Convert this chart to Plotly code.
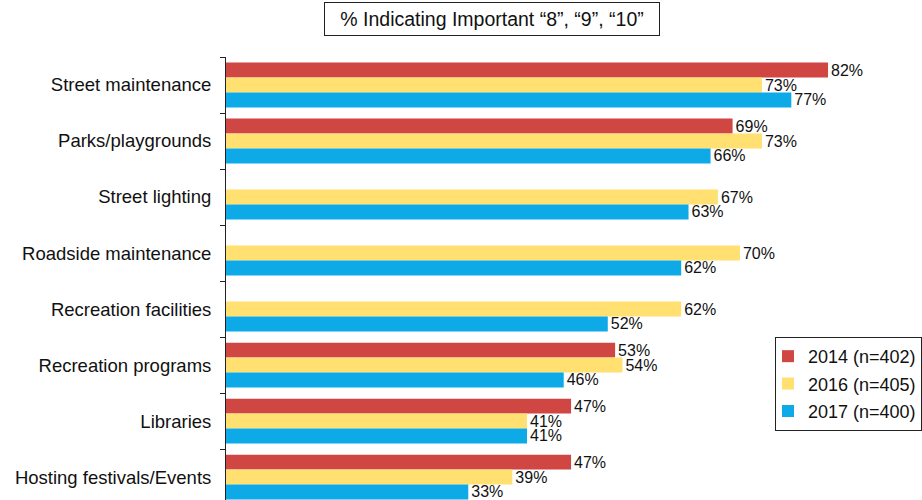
import plotly.graph_objects as go

categories = ["Street maintenance", "Parks/playgrounds", "Street lighting",
              "Roadside maintenance", "Recreation facilities", "Recreation programs",
              "Libraries", "Hosting festivals/Events"]
v2014 = [82, 69, None, None, None, 53, 47, 47]
v2016 = [73, 73, 67, 70, 62, 54, 41, 39]
v2017 = [77, 66, 63, 62, 52, 46, 41, 33]
series_names = ["2014 (n=402)", "2016 (n=405)", "2017 (n=400)"]
colors = ["#CF4642", "#FFE070", "#0DAAE7"]
title_text = "% Indicating Important “8”, “9”, “10”"

FONT = "Liberation Sans, Arial, sans-serif"

fig = go.Figure()
for i, (name, vals, col) in enumerate(zip(series_names, [v2014, v2016, v2017], colors)):
    fig.add_trace(go.Bar(
        y=categories, x=vals, orientation="h", name=name,
        marker=dict(color=col, line=dict(width=0)),
        text=[f"{v}%" if v is not None else "" for v in vals],
        textposition="outside", constraintext="none", cliponaxis=False,
        textfont=dict(family=FONT, size=16, color="#111"),
        legendgroup=f"g{i}",
    ))

fig.update_layout(
    width=922, height=500,
    margin=dict(l=226, r=0, t=57, b=0, autoexpand=False),
    paper_bgcolor="white", plot_bgcolor="white",
    barmode="group", bargap=0.2, bargroupgap=0,
    font=dict(family=FONT, color="#111"),
    showlegend=True,
    legend=dict(x=1, xanchor="right", y=0.368, yanchor="top",
                bordercolor="#222", borderwidth=1, bgcolor="white",
                font=dict(family=FONT, size=18, color="#111"),
                traceorder="grouped", tracegroupgap=1,
                itemwidth=30, indentation=-8),
    xaxis=dict(range=[0, 94.8], visible=False, fixedrange=True),
    yaxis=dict(type="category", range=[7.41, -0.5], tickson="boundaries",
               ticks="outside", ticklen=5, tickcolor="#222",
               showline=True, linecolor="#222", linewidth=1,
               showgrid=False, ticklabelstandoff=10,
               tickfont=dict(family=FONT, size=18.5, color="#111")),
    annotations=[dict(
        text=title_text, xref="paper", yref="paper", x=0.382, y=1.0858,
        xanchor="center", yanchor="middle", showarrow=False,
        font=dict(family=FONT, size=19.5, color="#111"),
        bordercolor="#222", borderwidth=1, borderpad=2,
        width=330, height=28, bgcolor="white",
    )],
)

fig.write_html("out.html",
               config={"displayModeBar": False},
               post_script="document.body.style.margin='0';document.body.style.overflow='hidden';")
